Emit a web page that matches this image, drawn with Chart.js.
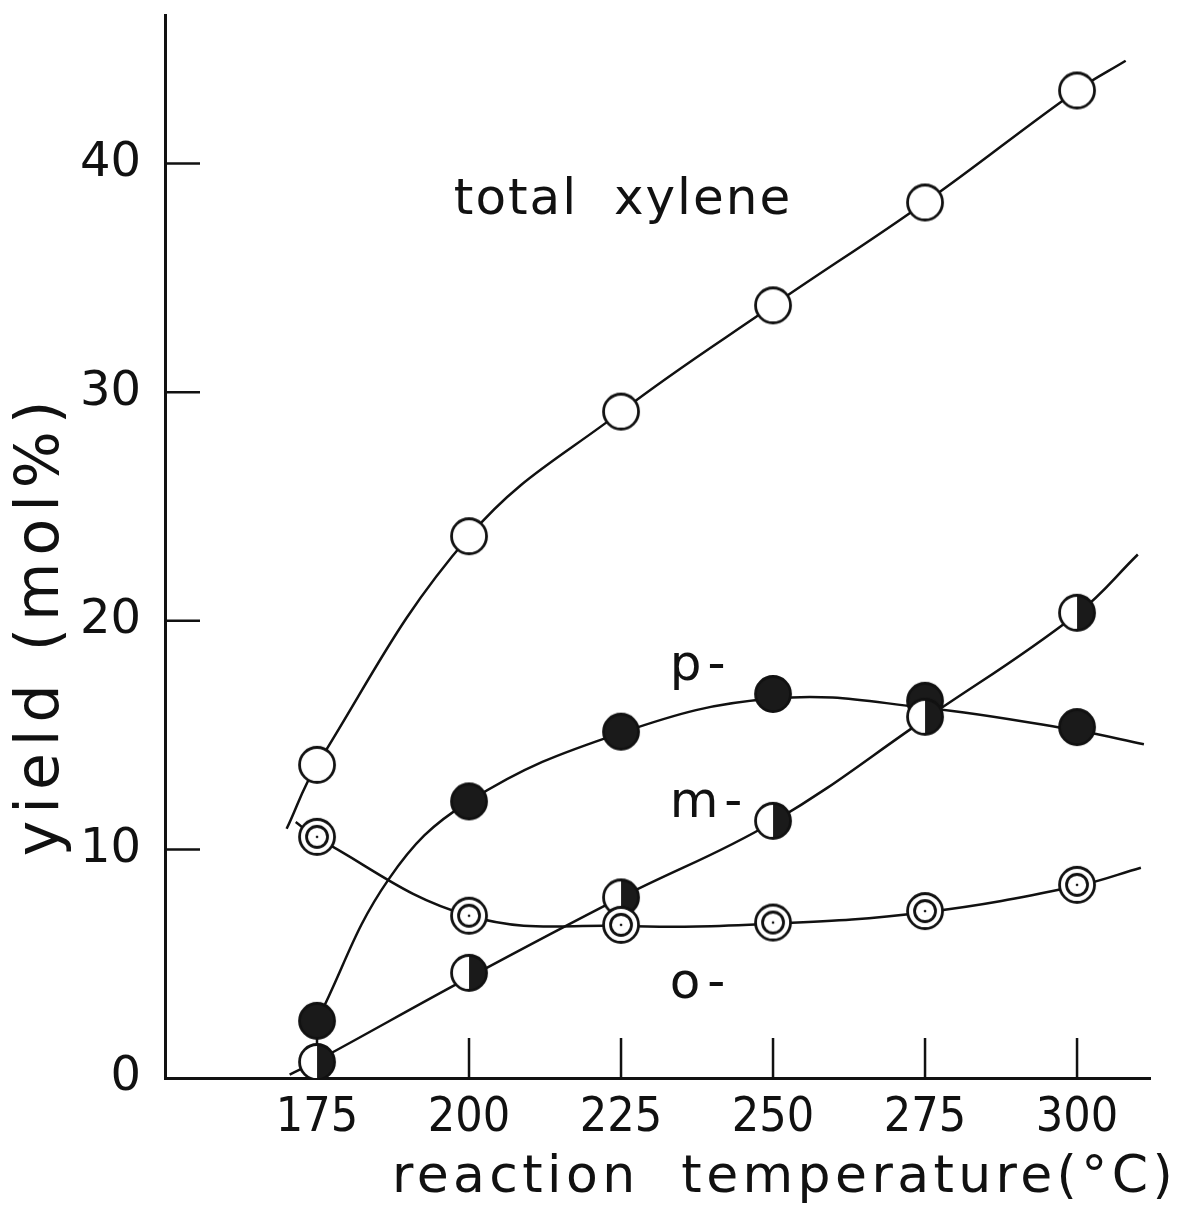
<!DOCTYPE html>
<html>
<head>
<meta charset="utf-8">
<script src="https://cdn.jsdelivr.net/npm/chart.js@4.4.1/dist/chart.umd.min.js"></script>
<style>
  html, body { margin: 0; padding: 0; background: #fff; }
</style>
</head>
<body>
<canvas id="myChart" width="1186" height="1209"></canvas>
<script>
// measured points (reaction temperature, yield mol%)
const temps = [175, 200, 225, 250, 275, 300];
const totalXylene = [13.7, 23.7, 29.15, 33.8, 38.3, 43.2];
const paraXylene = [2.5, 12.1, 15.15, 16.8, 16.5, 15.35];
const metaXylene = [0.7, 4.6, 7.9, 11.25, 15.8, 20.35];
const orthoXylene = [10.55, 7.1, 6.7, 6.8, 7.3, 8.45];

// hand drawn curves
const totalCurveT = [170, 175, 200, 225, 250, 275, 300, 308];
const totalCurveY = [10.9, 13.7, 23.7, 29.15, 33.8, 38.3, 43.2, 44.5];
const paraCurveT = [175, 186.8, 200, 225, 250, 275, 300, 311];
const paraCurveY = [2.5, 8.7, 12.1, 15.1, 16.6, 16.2, 15.2, 14.6];
const metaCurveT = [170.5, 175, 200, 225, 250, 275, 300, 310];
const metaCurveY = [0.15, 0.75, 4.4, 7.9, 11.2, 15.7, 20.3, 22.9];
const orthoCurveT = [171.5, 175, 200, 225, 250, 275, 300, 310.5];
const orthoCurveY = [11.2, 10.5, 7.1, 6.65, 6.75, 7.25, 8.4, 9.2];

const xTicks = [175, 200, 225, 250, 275, 300];
const yTicks = [0, 10, 20, 30, 40];

const ink = '#111';

function pts(xs, ys) {
    return xs.map((x, i) => ({ x: x, y: ys[i] }));
}

function makeMarker(kind) {
    const c = document.createElement('canvas');
    c.width = 42; c.height = 42;
    const g = c.getContext('2d');
    const r = 17.5;
    g.lineWidth = 2.8;
    g.strokeStyle = ink;
    g.beginPath();
    g.arc(21, 21, r, 0, Math.PI * 2);
    g.fillStyle = kind === 'filled' ? '#1a1a1a' : '#fff';
    g.fill();
    if (kind === 'half') {
        g.beginPath();
        g.moveTo(21, 21 - r);
        g.arc(21, 21, r, -Math.PI / 2, Math.PI / 2);
        g.closePath();
        g.fillStyle = '#1a1a1a';
        g.fill();
    }
    g.beginPath();
    g.arc(21, 21, r, 0, Math.PI * 2);
    g.stroke();
    if (kind === 'double') {
        g.beginPath();
        g.arc(21, 21, 10.5, 0, Math.PI * 2);
        g.stroke();
        g.beginPath();
        g.arc(21, 21, 1.3, 0, Math.PI * 2);
        g.fillStyle = ink;
        g.fill();
    }
    return c;
}

function curve(label, xs, ys) {
    return {
        label: label,
        data: pts(xs, ys),
        borderColor: ink,
        borderWidth: 2.5,
        pointRadius: 0,
        fill: false,
        tension: 0.4,
        order: 10
    };
}

function markers(label, ys, kind, order) {
    return {
        label: label,
        data: pts(temps, ys),
        showLine: false,
        pointStyle: makeMarker(kind),
        pointRadius: 18,
        order: order
    };
}

const decor = {
    id: 'decor',
    beforeDatasetsDraw(chart) {
        const { ctx, chartArea, scales } = chart;
        ctx.save();
        ctx.strokeStyle = ink;
        ctx.lineWidth = 2.5;
        // inward ticks
        yTicks.forEach(v => {
            if (v === 0) return;
            const y = scales.y.getPixelForValue(v);
            ctx.beginPath();
            ctx.moveTo(chartArea.left, y);
            ctx.lineTo(chartArea.left + 35, y);
            ctx.stroke();
        });
        xTicks.forEach(v => {
            const x = scales.x.getPixelForValue(v);
            ctx.beginPath();
            ctx.moveTo(x, chartArea.bottom);
            ctx.lineTo(x, chartArea.bottom - 40);
            ctx.stroke();
        });
        ctx.restore();
    },
    afterDraw(chart) {
        const { ctx, chartArea, scales } = chart;
        ctx.save();
        ctx.fillStyle = ink;
        ctx.textBaseline = 'alphabetic';
        ctx.textAlign = 'left';

        // curve labels
        ctx.font = '50px "DejaVu Sans"';
        ctx.letterSpacing = '2px';
        ctx.fillText('total  xylene', scales.x.getPixelForValue(197.5), scales.y.getPixelForValue(37.8));
        ctx.letterSpacing = '6px';
        ctx.fillText('p-', scales.x.getPixelForValue(233), scales.y.getPixelForValue(17.4));
        ctx.fillText('m-', scales.x.getPixelForValue(233), scales.y.getPixelForValue(11.4));
        ctx.fillText('o-', scales.x.getPixelForValue(233), scales.y.getPixelForValue(3.5));

        // axis titles
        ctx.font = '52px "DejaVu Sans"';
        ctx.letterSpacing = '4.4px';
        ctx.fillText('reaction  temperature(°C)', chartArea.left + 227, chartArea.bottom + 114);

        ctx.translate(chartArea.left - 107, 625);
        ctx.rotate(-Math.PI / 2);
        ctx.textAlign = 'center';
        ctx.font = '60px "DejaVu Sans"';
        ctx.letterSpacing = '7px';
        ctx.fillText('yield (mol%)', 0, 0);
        ctx.restore();
        ctx.letterSpacing = '0px';
    }
};

const chart = new Chart(document.getElementById('myChart'), {
    type: 'line',
    data: {
        datasets: [
            markers('o-', orthoXylene, 'double', 0),
            markers('m-', metaXylene, 'half', 1),
            markers('p-', paraXylene, 'filled', 2),
            markers('total xylene', totalXylene, 'open', 3),
            curve('total xylene curve', totalCurveT, totalCurveY),
            curve('p- curve', paraCurveT, paraCurveY),
            curve('m- curve', metaCurveT, metaCurveY),
            curve('o- curve', orthoCurveT, orthoCurveY)
        ]
    },
    options: {
        responsive: false,
        animation: false,
        devicePixelRatio: 1,
        layout: { autoPadding: false, padding: { top: 15, right: 36, left: 0, bottom: 0 } },
        plugins: {
            legend: { display: false },
            tooltip: { enabled: false }
        },
        scales: {
            x: {
                type: 'linear',
                min: 150,
                max: 312,
                afterBuildTicks: s => { s.ticks = xTicks.map(v => ({ value: v })); },
                afterFit: s => { s.height = 131; },
                grid: { display: false, drawTicks: false },
                border: { display: true, color: ink, width: 3 },
                ticks: {
                    color: ink,
                    padding: 12,
                    maxRotation: 0,
                    font: { family: '"Liberation Sans Narrow", "DejaVu Sans Condensed", sans-serif', size: 48 }
                }
            },
            y: {
                min: 0,
                max: 46.5,
                afterBuildTicks: s => { s.ticks = yTicks.map(v => ({ value: v })); },
                afterFit: s => { s.width = 165; s.paddingTop = 0; s.paddingBottom = 0; },
                grid: { display: false, drawTicks: false },
                border: { display: true, color: ink, width: 3 },
                ticks: {
                    color: ink,
                    padding: 24,
                    font: { family: '"DejaVu Sans"', size: 48 }
                }
            }
        }
    },
    plugins: [decor]
});
</script>
</body>
</html>
